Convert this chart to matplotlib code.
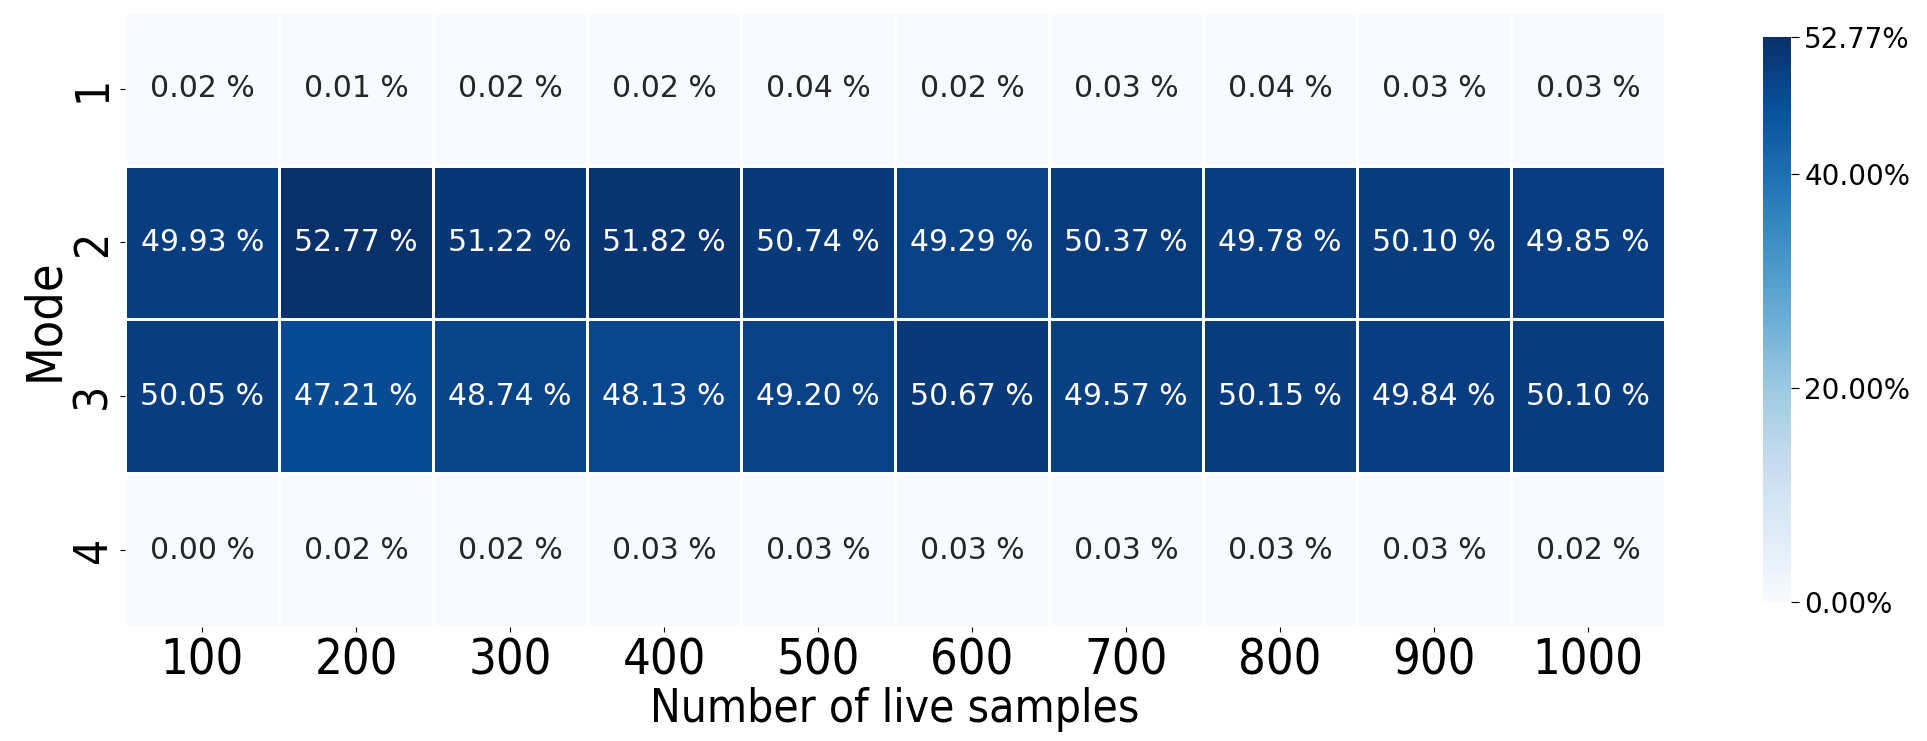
import matplotlib
matplotlib.use('Agg')
import matplotlib.pyplot as plt
import numpy as np
import seaborn as sns

samples = [100, 200, 300, 400, 500, 600, 700, 800, 900, 1000]
modes = [1, 2, 3, 4]

mode1 = [0.02, 0.01, 0.02, 0.02, 0.04, 0.02, 0.03, 0.04, 0.03, 0.03]
mode2 = [49.93, 52.77, 51.22, 51.82, 50.74, 49.29, 50.37, 49.78, 50.10, 49.85]
mode3 = [50.05, 47.21, 48.74, 48.13, 49.20, 50.67, 49.57, 50.15, 49.84, 50.10]
mode4 = [0.00, 0.02, 0.02, 0.03, 0.03, 0.03, 0.03, 0.03, 0.03, 0.02]

data = np.array([mode1, mode2, mode3, mode4])
labels = np.array([["%.2f %%" % v for v in row] for row in data])

fig = plt.figure(figsize=(19.27, 7.41), dpi=100)
ax = fig.add_axes([0.065, 0.154, 0.799, 0.830])
cax = fig.add_axes([0.915, 0.188, 0.0145, 0.762])

vmax = data.max()
sns.heatmap(data, ax=ax, cbar_ax=cax, cmap='Blues', vmin=0, vmax=vmax,
            annot=labels, fmt='', annot_kws={'fontsize': 21.5},
            linewidths=1, linecolor='white',
            xticklabels=samples, yticklabels=modes,
            cbar_kws={'ticks': [0, 20, 40, vmax], 'format': '%.2f%%'})

# axis text in the reference looks condensed
cond = dict(family='DejaVu Sans', stretch='condensed')
ax.set_xticklabels(samples, fontsize=35, rotation=0, **cond)
ax.set_yticklabels(modes, fontsize=33, rotation=90, va='center', **cond)
ax.set_xlabel('Number of live samples', fontsize=33, labelpad=2, **cond)
ax.set_ylabel('Mode', fontsize=36, labelpad=2, **cond)
cax.tick_params(labelsize=20)
cax.yaxis.set_tick_params(length=6)
for s in cax.spines.values():
    s.set_visible(False)

fig.savefig('out.png', dpi=100)
